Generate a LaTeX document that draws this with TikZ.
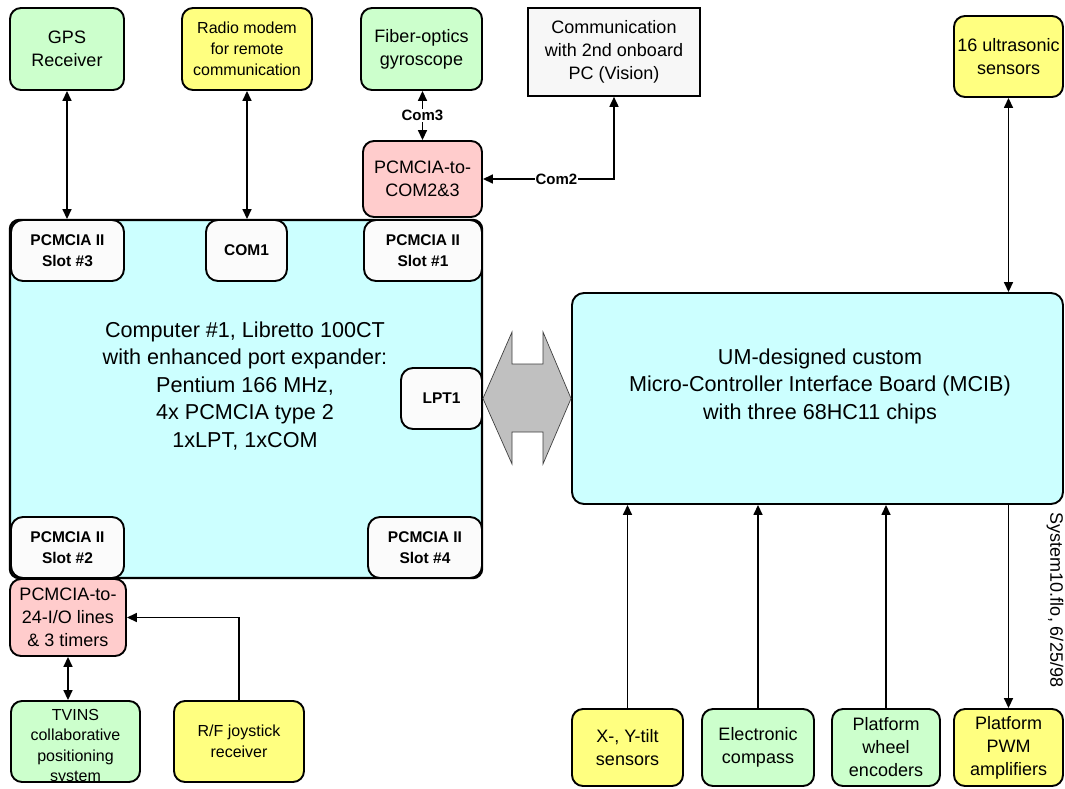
\documentclass[tikz,border=0pt]{standalone}
\usepackage{fontspec}
\setmainfont{Liberation Sans}
\usetikzlibrary{arrows.meta}
\definecolor{cgreen}{HTML}{CCFFCC}
\definecolor{cyellow}{HTML}{FFFF80}
\definecolor{cpink}{HTML}{FFCCCC}
\definecolor{ccyan}{HTML}{CCFFFF}
\definecolor{cwhite}{HTML}{FBFBFB}
\definecolor{cgray}{HTML}{C0C0C0}
\tikzset{
  rbox/.style={draw, line width=1.9pt, rounded corners=11pt, align=center, inner sep=0pt,
    font=\fontsize{18}{23}\selectfont},
  lbl/.style={rbox, fill=cwhite, rounded corners=12pt, font=\fontsize{15.5}{21}\selectfont\bfseries},
  conn/.style={line width=1.6pt, -{Triangle[length=10pt,width=9pt]}},
  biconn/.style={line width=1.6pt, {Triangle[length=10pt,width=9pt]}-{Triangle[length=10pt,width=9pt]}},
  wlabel/.style={fill=white, inner sep=1pt, font=\fontsize{15}{18}\selectfont\bfseries},
}
\begin{document}
\begin{tikzpicture}[x=1pt,y=-1pt]
\fill[white] (0,0) rectangle (1065,788);
\useasboundingbox (0,0) rectangle (1065,788);

% top row
\node[rbox, fill=cgreen, minimum width=114pt, minimum height=82pt] (gps) at (67,49) {GPS\\Receiver};
\node[rbox, fill=cyellow, minimum width=130pt, minimum height=82pt, font=\fontsize{16}{21}\selectfont] (radio) at (247,49) {Radio modem\\for remote\\communication};
\node[rbox, fill=cgreen, minimum width=121pt, minimum height=82pt] (fiber) at (421.5,49) {Fiber-optics\\gyroscope};
\node[rbox, fill=white!97!black, rounded corners=0pt, line width=1.6pt, minimum width=172pt, minimum height=88pt] (comm) at (614,52) {Communication\\with 2nd onboard\\PC (Vision)};
\node[rbox, fill=cyellow, minimum width=109pt, minimum height=81pt] (ultra) at (1008.5,56.5) {16 ultrasonic\\sensors};
\node[rbox, fill=cpink, minimum width=119pt, minimum height=76pt] (pcom) at (422.5,179) {PCMCIA-to-\\COM2\&3};

% main computer
\node[draw, line width=2.4pt, fill=ccyan, rounded corners=9pt, minimum width=472pt, minimum height=358pt] (main) at (246,399) {};
\node[align=center, font=\fontsize{21.6}{27.5}\selectfont] (maintext) at (245,386) {Computer \#1, Libretto 100CT\\with enhanced port expander:\\Pentium 166 MHz,\\4x PCMCIA type 2\\1xLPT, 1xCOM};
\node[lbl, minimum width=113pt, minimum height=61pt] (s3) at (67.5,250.5) {PCMCIA II\\Slot \#3};
\node[lbl, minimum width=81pt, minimum height=61pt] (com1) at (246.5,250.5) {COM1};
\node[lbl, minimum width=118pt, minimum height=61pt] (s1) at (423,250.5) {PCMCIA II\\Slot \#1};
\node[lbl, minimum width=81pt, minimum height=61pt] (lpt) at (441.5,398.5) {LPT1};
\node[lbl, minimum width=113pt, minimum height=61pt] (s2) at (67.5,547.5) {PCMCIA II\\Slot \#2};
\node[lbl, minimum width=114pt, minimum height=61pt] (s4) at (425,547.5) {PCMCIA II\\Slot \#4};

% MCIB
\node[rbox, fill=ccyan, rounded corners=12pt, minimum width=491pt, minimum height=211pt] (mcib) at (817.5,398.5) {};
\node[align=center, font=\fontsize{21.6}{27.5}\selectfont] (mcibtext) at (820,386) {UM-designed custom\\Micro-Controller Interface Board (MCIB)\\with three 68HC11 chips};

% gray double arrow
\draw[fill=cgray, draw=black!75, line width=0.7pt] (lpt.east) -- (512,332) -- (512,364) -- (543,364) -- (543,332) -- (mcib.west) -- (543,464) -- (543,432) -- (512,432) -- (512,464) -- cycle;

% lower left
\node[rbox, fill=cpink, minimum width=116pt, minimum height=77pt] (p24) at (68,617.5) {PCMCIA-to-\\24-I/O lines\\\& 3 timers};
\node[rbox, fill=cgreen, minimum width=129pt, minimum height=81pt] (tvins) at (75.5,741.5) {};
\begin{scope}
\clip (10,700) rectangle (141,782);
\node[align=center, font=\fontsize{16}{20.3}\selectfont] (tvinstext) at (75.5,747) {TVINS\\collaborative\\positioning\\system};
\end{scope}
\node[rbox, fill=cyellow, minimum width=130pt, minimum height=81pt, font=\fontsize{16}{21}\selectfont] (joy) at (239,741.5) {R/F joystick\\receiver};

% bottom right
\node[rbox, fill=cyellow, minimum width=111pt, minimum height=77pt] (xtilt) at (627.5,747.5) {X-, Y-tilt\\sensors};
\node[rbox, fill=cgreen, minimum width=112pt, minimum height=77pt] (compass) at (758,747.5) {Electronic\\compass};
\node[rbox, fill=cgreen, minimum width=108pt, minimum height=77pt] (wheel) at (886,747.5) {Platform\\wheel\\encoders};
\node[rbox, fill=cyellow, minimum width=109pt, minimum height=77pt] (pwm) at (1008.5,747.5) {Platform\\PWM\\amplifiers};

\node[rotate=-90, font=\fontsize{18}{22}\selectfont, inner sep=0pt] (sysnote) at (1055,600) {System10.flo, 6/25/98};

% connectors
\draw[biconn] (gps.south) -- (gps.south |- s3.north);
\draw[biconn] (radio.south) -- (radio.south |- com1.north);
\draw[biconn] (pcom.north) -- (pcom.north |- fiber.south) node[midway, wlabel] {Com3};
\draw[biconn] (pcom.east) -| (comm.south) node[pos=0.28, wlabel] {Com2};
\draw[biconn] (ultra.south) -- (ultra.south |- mcib.north);
\draw[biconn] (p24.south) -- (p24.south |- tvins.north);
\draw[conn] (joy.north) |- (p24.east);
\draw[conn] (xtilt.north) -- (xtilt.north |- mcib.south);
\draw[conn] (compass.north) -- (compass.north |- mcib.south);
\draw[conn] (wheel.north) -- (wheel.north |- mcib.south);
\draw[conn] (pwm.north |- mcib.south) -- (pwm.north);
\end{tikzpicture}
\end{document}
